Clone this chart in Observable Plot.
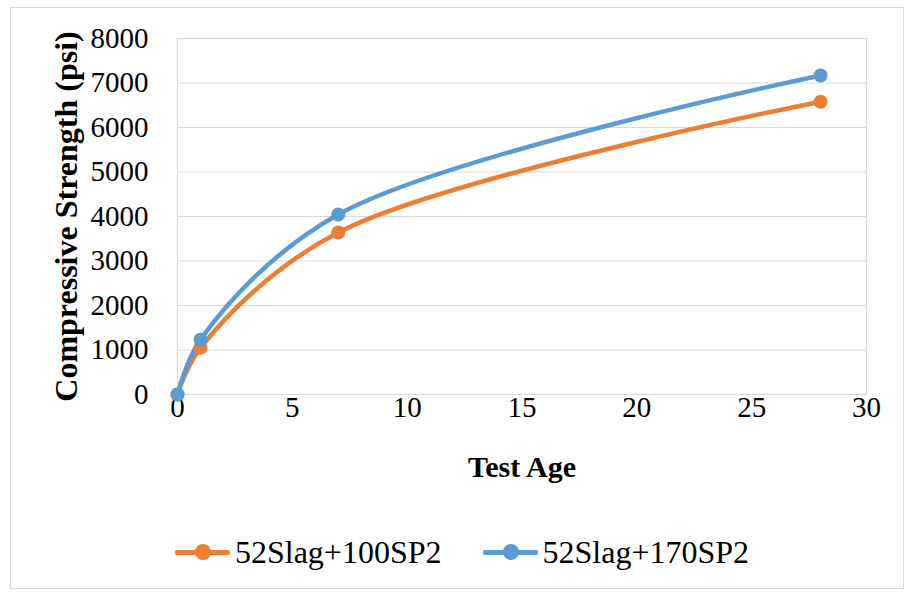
<!DOCTYPE html>
<html><head><meta charset="utf-8">
<script src="https://cdn.jsdelivr.net/npm/d3@7"></script>
<script src="https://cdn.jsdelivr.net/npm/@observablehq/plot@0.6"></script>
<style>
body{margin:0;background:#fff;font-family:'Liberation Serif',serif;}
#wrap{position:relative;width:910px;height:592px;overflow:hidden;}
#frame{position:absolute;left:10px;top:7px;width:894px;height:582px;border:1px solid #d9d9d9;box-sizing:border-box;}
#chart{position:absolute;left:0;top:0;}
#legend{position:absolute;left:0;top:533px;width:910px;padding-left:14px;box-sizing:border-box;display:flex;justify-content:center;gap:41px;font-family:'Liberation Serif',serif;font-size:32px;line-height:38px;color:#000;}
.item{display:flex;align-items:center;}
.sw{position:relative;width:55px;height:20px;margin-right:5px;}
.sw .l{position:absolute;left:0;top:8px;width:55px;height:5px;border-radius:2px;}
.sw .d{position:absolute;left:20px;top:2px;width:16px;height:16px;border-radius:50%;}
svg text{font-family:'Liberation Serif',serif;}
</style></head>
<body>
<div id="wrap"><div id="frame"></div><div id="chart"></div><div id="legend"></div></div>
<script>
const ages = [0, 1, 7, 28];
const series = ["52Slag+100SP2", "52Slag+170SP2"];
const strength100 = [0, 1050, 3640, 6580];
const strength170 = [0, 1230, 4045, 7170];
const colors = ["#ED7D31", "#5B9BD5"];
const xTicks = [0, 5, 10, 15, 20, 25, 30];
const yTicks = [0, 1000, 2000, 3000, 4000, 5000, 6000, 7000, 8000];

const rows = [];
[strength100, strength170].forEach((vals, i) => ages.forEach((a, j) => rows.push({age: a, s: vals[j], series: series[i]})));

const chart = Plot.plot({
  width: 910, height: 510,
  marginLeft: 177, marginRight: 44, marginTop: 38, marginBottom: 116,
  style: {fontFamily: "'Liberation Serif', serif", fontSize: "29px", color: "#000", background: "transparent"},
  x: {domain: [0, 30], ticks: xTicks, label: null},
  y: {domain: [0, 8000], ticks: yTicks, label: null},
  color: {domain: series, range: colors},
  marks: [
    Plot.gridY(yTicks, {stroke: "#d9d9d9", strokeOpacity: 1, strokeWidth: 1.2}),
    Plot.frame({stroke: "#d9d9d9", strokeWidth: 1.2}),
    Plot.axisY(yTicks, {tickSize: 0, tickPadding: 29, fontSize: 29, tickFormat: "d", label: null}),
    Plot.axisX(xTicks, {tickSize: 0, tickPadding: 2, fontSize: 29, tickFormat: "d", label: null}),
    Plot.line(rows, {x: "age", y: "s", z: "series", stroke: "series", strokeWidth: 4.5, curve: "catmull-rom"}),
    Plot.dot(rows, {x: "age", y: "s", fill: "series", r: 7}),
    Plot.text(["Test Age"], {frameAnchor: "bottom", dy: 82, fontSize: 30, fontWeight: "bold", textAnchor: "middle"}),
    Plot.text(["Compressive Strength (psi)"], {frameAnchor: "left", rotate: -90, dx: -111, fontSize: 32, fontWeight: "bold", textAnchor: "middle"})
  ]
});
document.getElementById("chart").appendChild(chart);

const leg = document.getElementById("legend");
series.forEach((s, i) => {
  const it = document.createElement("div"); it.className = "item";
  it.innerHTML = `<div class="sw"><div class="l" style="background:${colors[i]}"></div><div class="d" style="background:${colors[i]}"></div></div><span>${s}</span>`;
  leg.appendChild(it);
});
</script>
</body></html>
